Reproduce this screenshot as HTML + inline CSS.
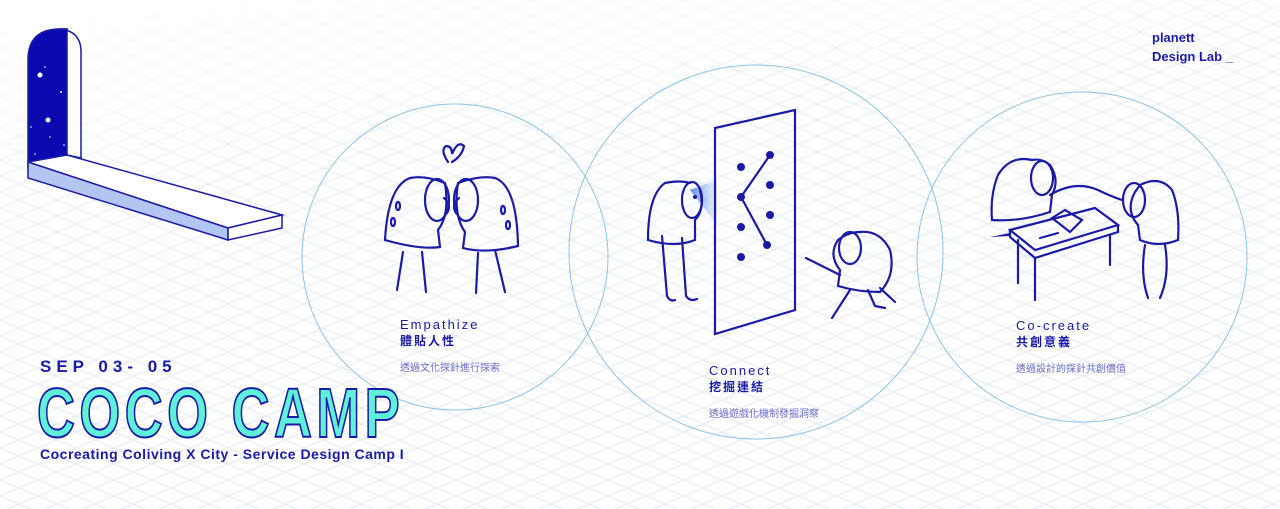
<!DOCTYPE html>
<html><head><meta charset="utf-8"><style>
html,body{margin:0;padding:0;background:#fff;}
#c{position:relative;width:1280px;height:509px;overflow:hidden;font-family:"Liberation Sans","Noto Sans CJK TC",sans-serif;}
.t{position:absolute;color:#1a1aa6;white-space:nowrap;}
</style></head><body><div id="c">
<svg width="1280" height="509" style="position:absolute;left:0;top:0">
<defs>
<pattern id="g" width="38" height="16" patternUnits="userSpaceOnUse">
<path d="M0 0 L38 16 M0 16 L38 0" stroke="#dde7f5" stroke-width="1" fill="none"/>
</pattern>
<linearGradient id="fade" x1="0" y1="0" x2="0.3" y2="1">
<stop offset="0" stop-color="#fff" stop-opacity="1"/>
<stop offset="0.35" stop-color="#fff" stop-opacity="0.2"/>
<stop offset="1" stop-color="#fff" stop-opacity="0"/>
</linearGradient>
<linearGradient id="beam" x1="0" y1="0" x2="1" y2="0">
<stop offset="0" stop-color="#3a6fd8"/><stop offset="1" stop-color="#cfe3f8" stop-opacity="0.5"/>
</linearGradient>
</defs>
<rect width="1280" height="509" fill="url(#g)"/>
<rect width="1280" height="509" fill="url(#fade)"/>
<g fill="none" stroke="#8ec3e6" stroke-width="1">
<circle cx="455" cy="257" r="153"/>
<circle cx="756" cy="252" r="187"/>
<circle cx="1082" cy="257" r="165"/>
</g>
<g stroke="#1a1aa6" stroke-width="1.5">
<path d="M28 168 L28 60 Q28 30 58 29 L67 29 L67 156 Z" fill="#0a0ab0"/>
<path d="M58 29 Q80 30 81 50 L81 158 L67 155 L67 29 Z" fill="#fff"/>
<path d="M28 162 L67 155 L282 215 L228 228 Z" fill="#fff"/>
<path d="M28 162 L28 178 L228 240 L228 228 Z" fill="#b3c6f2"/>
<path d="M228 228 L282 215 L282 228 L228 240 Z" fill="#fff"/>
</g>
<g fill="#fff"><circle cx="40" cy="75" r="2.5"/><circle cx="48" cy="120" r="2.5"/><circle cx="45" cy="67" r="0.8"/><circle cx="61" cy="92" r="1"/><circle cx="31" cy="127" r="0.8"/><circle cx="50" cy="137" r="0.8"/><circle cx="64" cy="145" r="0.8"/><circle cx="35" cy="154" r="0.8"/></g>
<g fill="none" stroke="#1a1aa6" stroke-width="2.2" stroke-linecap="round">
<path d="M448 162 Q440 150 446 146 Q452 146 452 154 Q458 140 464 146 Q462 156 452 162"/>
<path d="M445 183 Q425 175 410 178 Q388 186 385 240 Q420 250 440 247 L438 230 Q450 215 445 183 Z"/>
<ellipse cx="437" cy="200" rx="12" ry="21"/>
<path d="M444 198 Q452 205 447 213"/>
<path d="M458 183 Q480 175 495 178 Q517 186 518 246 Q485 254 463 248 L465 232 Q453 215 458 183 Z"/>
<ellipse cx="466" cy="200" rx="12" ry="21"/>
<path d="M459 198 Q451 205 456 213"/>
<line x1="403" y1="252" x2="397" y2="290"/><line x1="422" y1="252" x2="426" y2="292"/>
<line x1="478" y1="253" x2="476" y2="293"/><line x1="495" y1="250" x2="505" y2="292"/>
<ellipse cx="398" cy="206" rx="2" ry="4"/><ellipse cx="393" cy="222" rx="2" ry="4"/>
<ellipse cx="503" cy="210" rx="2" ry="4"/><ellipse cx="508" cy="225" rx="2" ry="4"/>
</g>
<path d="M690 190 L717 180 L717 225 Z" fill="url(#beam)" opacity="0.85"/>
<g fill="none" stroke="#1a1aa6" stroke-width="2.2" stroke-linecap="round">
<path d="M715 128 L795 110 L795 310 L715 334 Z"/>
<path d="M770 155 L741 197 L767 245"/>
<path d="M690 183 Q680 180 665 183 Q648 195 648 240 Q675 248 695 240 L695 220 Q705 210 700 190"/>
<ellipse cx="692" cy="200" rx="10" ry="18"/>
<path d="M662 236 L667 296 Q670 302 675 300 M682 238 L686 296 Q690 302 697 299"/>
<path d="M860 232 Q880 230 890 250 Q896 275 880 292 Q858 292 838 286 L840 270 Q828 255 838 240 Q848 232 860 232Z"/>
<ellipse cx="850" cy="248" rx="11" ry="16"/>
<path d="M806 258 L840 275 M880 288 L895 302 M850 290 L832 318 M868 290 L875 306 L885 308"/>
</g>
<g fill="#1a1aa6"><circle cx="741" cy="167" r="4"/><circle cx="770" cy="155" r="4"/><circle cx="770" cy="185" r="4"/><circle cx="741" cy="197" r="4"/><circle cx="770" cy="215" r="4"/><circle cx="741" cy="227" r="4"/><circle cx="767" cy="245" r="4"/><circle cx="741" cy="257" r="4"/><circle cx="695" cy="197" r="2"/></g>
<g fill="none" stroke="#1a1aa6" stroke-width="2.2" stroke-linecap="round">
<path d="M1032 160 Q1010 155 998 175 Q990 195 992 220 Q1020 222 1050 212 L1052 195 Q1060 180 1050 165 Q1042 158 1032 160Z"/>
<ellipse cx="1042" cy="178" rx="11" ry="17"/>
<path d="M1050 195 Q1075 180 1098 190 Q1110 196 1122 200"/>
<path d="M1010 230 L1095 208 L1118 225 L1035 250 Z"/>
<path d="M1010 230 L1010 237 L1035 258 L1118 232 L1118 225"/>
<path d="M1018 240 L1018 283 M1035 258 L1035 300 M1110 235 L1110 265"/>
<path d="M1140 185 Q1160 175 1172 190 Q1180 210 1178 240 Q1158 248 1140 240 L1138 225 Q1125 210 1135 192Z"/>
<ellipse cx="1134" cy="200" rx="11" ry="17"/>
<path d="M1145 245 Q1140 275 1148 298 M1165 245 Q1170 275 1160 298"/>
<path d="M1052 218 L1065 210 L1082 220 L1070 232 Z"/>
<path d="M1040 238 L1058 233"/>
</g>
<path d="M990 237 L1010 233 L1010 236 Z" fill="#1a1aa6"/>
</svg>
<div class="t" style="left:1152px;top:28px;font-weight:bold;font-size:13px;line-height:19px;">planett<br>Design Lab <span>_</span></div>
<div class="t" style="left:400px;top:317px;font-size:13px;letter-spacing:2px;">Empathize</div>
<div class="t" style="left:400px;top:332px;font-size:12px;letter-spacing:2px;font-weight:bold;">體貼人性</div>
<div class="t" style="left:400px;top:359px;font-size:10px;color:#6a6ac8;">透過文化探針進行探索</div>
<div class="t" style="left:709px;top:363px;font-size:13px;letter-spacing:2px;">Connect</div>
<div class="t" style="left:709px;top:378px;font-size:12px;letter-spacing:2px;font-weight:bold;">挖掘連結</div>
<div class="t" style="left:709px;top:405px;font-size:10px;color:#6a6ac8;">透過遊戲化機制發掘洞察</div>
<div class="t" style="left:1016px;top:318px;font-size:13px;letter-spacing:2px;">Co-create</div>
<div class="t" style="left:1016px;top:333px;font-size:12px;letter-spacing:2px;font-weight:bold;">共創意義</div>
<div class="t" style="left:1016px;top:360px;font-size:10px;color:#6a6ac8;">透過設計的探針共創價值</div>
<div class="t" style="left:40px;top:357px;font-size:17px;font-weight:bold;letter-spacing:5px;">SEP 03- 05</div>
<div class="t" style="left:37px;top:376px;font-size:70px;font-weight:bold;letter-spacing:6px;color:#5ef0d8;-webkit-text-stroke:2px #1a1aa6;line-height:74px;transform:scaleX(0.75);transform-origin:0 0;">COCO CAMP</div>
<div class="t" style="left:40px;top:446px;font-size:14px;font-weight:bold;letter-spacing:0.5px;">Cocreating Coliving X City - Service Design Camp I</div>
</div></body></html>
